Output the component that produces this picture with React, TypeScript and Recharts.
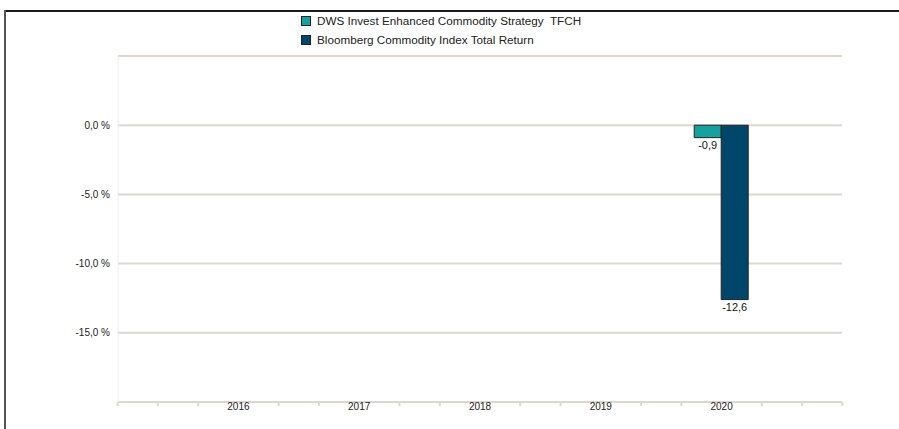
import { BarChart, Bar, XAxis, YAxis, CartesianGrid, Legend, LabelList } from 'recharts';

const years = ['2016', '2017', '2018', '2019', '2020'];
const fundReturns = [null, null, null, null, -0.9];
const indexReturns = [null, null, null, null, -12.6];
const yTicks = [5, 0, -5, -10, -15, -20];
const yLabelled = [0, -5, -10, -15];

const fundName = 'DWS Invest Enhanced Commodity Strategy  TFCH';
const indexName = 'Bloomberg Commodity Index Total Return';
const seriesOrder = ['fund', 'index'];

const data = years.map((year, i) => ({
  year,
  fund: fundReturns[i],
  index: indexReturns[i],
}));

const FONT = '"Liberation Sans", Arial, sans-serif';
const TEAL = '#17a19e';
const NAVY = '#00466a';
const AXIS = '#dcd8cf';

const fmt = (v: number) => v.toFixed(1).replace('.', ',');

const LegendContent = (props: any) => {
  const items = [...(props.payload || [])].sort(
    (a: any, b: any) => seriesOrder.indexOf(a.dataKey) - seriesOrder.indexOf(b.dataKey)
  );
  return (
    <div style={{ fontFamily: FONT, fontSize: 11.7, color: '#222' }}>
      {items.map((entry: any) => (
        <div key={entry.value} style={{ display: 'flex', alignItems: 'center', height: 19, whiteSpace: 'pre' }}>
          <span
            style={{
              display: 'inline-block',
              width: 8,
              height: 8,
              background: entry.color,
              border: '1px solid #222',
              marginRight: 6,
            }}
          />
          {entry.value}
        </div>
      ))}
    </div>
  );
};

// year label plus the small tick marks (3 per year, none under the label)
const YearTick = (props: any) => {
  const { x, y, payload, index, visibleTicksCount } = props;
  const band = payload && payload.offset ? payload.offset * 2 : 120.8;
  const steps = [1, 2];
  if (index === 0) steps.push(-1, -2, -3);
  if (index === visibleTicksCount - 1) steps.push(3);
  return (
    <g>
      {steps.map((s) => (
        <line
          key={s}
          x1={x + (s * band) / 3}
          x2={x + (s * band) / 3}
          y1={y - 1}
          y2={y + 3}
          stroke={AXIS}
          strokeWidth={2}
        />
      ))}
      <text x={x} y={y} dy="0.71em" textAnchor="middle" style={{ fontFamily: FONT, fontSize: 10, fill: '#222' }}>
        {payload.value}
      </text>
    </g>
  );
};

// value label just past the end of the bar (below it for negative values)
const EndLabel = (props: any) => {
  const { x, y, width, height, value } = props;
  if (value == null) return null;
  const bottom = Math.max(y, y + height);
  return (
    <text
      x={x + width / 2}
      y={bottom + 3}
      dy="0.8em"
      textAnchor="middle"
      style={{ fontFamily: FONT, fontSize: 11, fill: '#111' }}
    >
      {fmt(value)}
    </text>
  );
};

export default function App() {
  return (
    <div style={{ position: 'absolute', left: 0, top: 0, width: 899, height: 429, background: '#fff' }}>
      <BarChart
        width={899}
        height={429}
        data={data}
        margin={{ top: 56, right: 57, left: 8, bottom: 7 }}
        barGap={0}
        barSize={27}
      >
        <CartesianGrid vertical={false} stroke={AXIS} strokeWidth={2} horizontalValues={yTicks} />
        <XAxis
          dataKey="year"
          height={20}
          padding={{ left: 60, right: 60 }}
          axisLine={{ stroke: AXIS, strokeWidth: 2 }}
          tickLine={false}
          tickSize={0}
          tickMargin={1}
          interval={0}
          tick={<YearTick />}
        />
        <YAxis
          width={110}
          domain={[-20, 5]}
          ticks={yTicks}
          interval={0}
          allowDataOverflow
          tickLine={false}
          axisLine={{ stroke: '#f1efeb' }}
          tickFormatter={(v: number) => (yLabelled.includes(v) ? `${fmt(v)} %` : '')}
          tick={{ fontFamily: FONT, fontSize: 10, fill: '#222' }}
        />
        <Legend
          layout="vertical"
          verticalAlign="middle"
          align="center"
          wrapperStyle={{ top: 11, left: 301, width: 320 }}
          content={<LegendContent />}
        />
        <Bar dataKey="fund" name={fundName} fill={TEAL} stroke="#222" strokeWidth={1} isAnimationActive={false}>
          <LabelList dataKey="fund" content={<EndLabel />} />
        </Bar>
        <Bar dataKey="index" name={indexName} fill={NAVY} stroke="#222" strokeWidth={1} isAnimationActive={false}>
          <LabelList dataKey="index" content={<EndLabel />} />
        </Bar>
      </BarChart>
      <div style={{ position: 'absolute', left: 4, top: 10, right: 0, height: 2, background: '#1a1a1a' }} />
      <div style={{ position: 'absolute', left: 4, top: 10, width: 2, bottom: 0, background: '#555' }} />
    </div>
  );
}
